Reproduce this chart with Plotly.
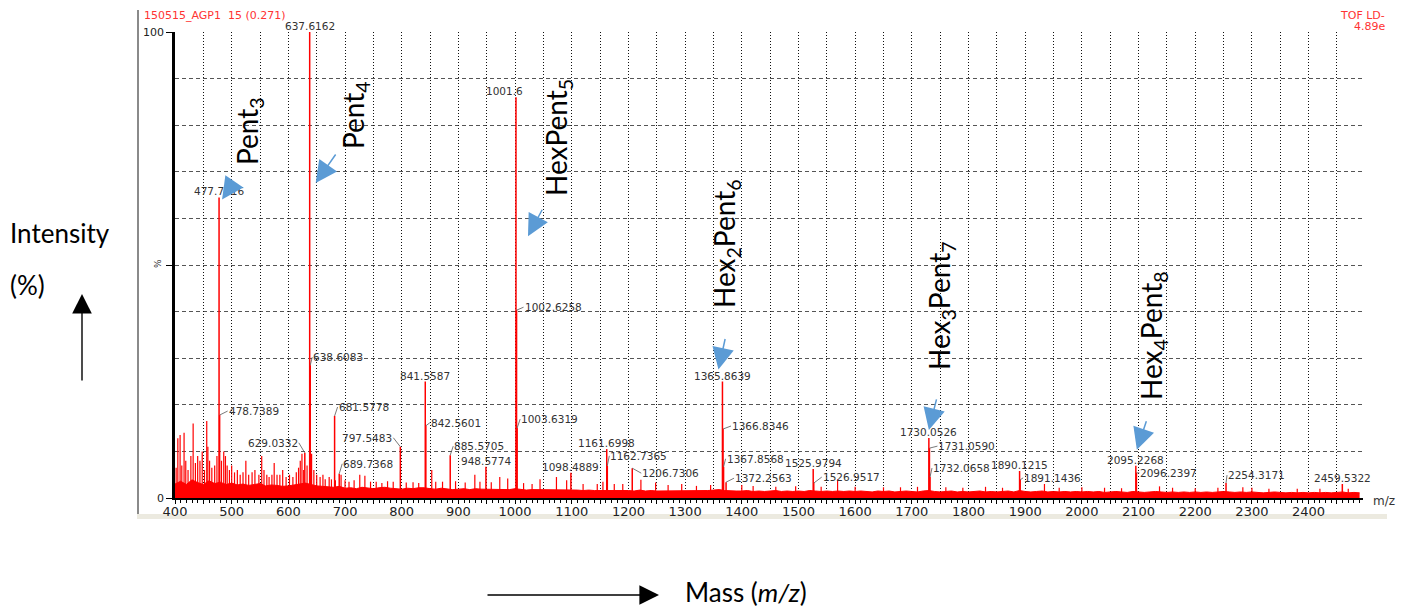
import plotly.graph_objects as go

# ---------------- data ----------------
peak_mz = [477.7416, 478.7389, 629.0332, 637.6162, 638.6083, 681.5778, 689.7368,
           797.5483, 841.5587, 842.5601, 885.5705, 948.5774, 1001.6, 1002.6258,
           1003.6319, 1098.4889, 1161.6998, 1162.7365, 1206.7306, 1365.8639,
           1366.8346, 1367.8568, 1372.2563, 1525.9794, 1526.9517, 1730.0526,
           1731.0590, 1732.0658, 1890.1215, 1891.1436, 2095.2268, 2096.2397,
           2254.3171, 2459.5322]
peak_int = [64.5, 17.8, 9.7, 100.0, 28.5, 17.6, 5.2,
            11.0, 25.0, 15.5, 9.2, 6.7, 86.0, 40.3,
            15.0, 5.4, 10.5, 6.9, 6.4, 25.0,
            14.8, 6.7, 3.4, 6.2, 3.2, 12.9,
            10.7, 4.5, 5.8, 3.9, 6.9, 5.4,
            3.2, 3.0]
peak_labels = ["477.7416", "478.7389", "629.0332", "637.6162", "638.6083", "681.5778", "689.7368",
               "797.5483", "841.5587", "842.5601", "885.5705", "948.5774", "1001.6", "1002.6258",
               "1003.6319", "1098.4889", "1161.6998", "1162.7365", "1206.7306", "1365.8639",
               "1366.8346", "1367.8568", "1372.2563", "1525.9794", "1526.9517", "1730.0526",
               "1731.0590", "1732.0658", "1890.1215", "1891.1436", "2095.2268", "2096.2397",
               "2254.3171", "2459.5322"]

minor_mz = [402, 405, 409, 412, 416, 419, 423, 428, 432, 436, 440, 444, 448, 452, 456, 458,
            461, 465, 470, 474, 482, 486, 489, 492, 496, 500, 505, 510, 515, 520, 525, 530,
            536, 541, 548, 553, 557, 562, 566, 571, 575, 580, 585, 590, 596, 602, 608, 614,
            618, 621, 624, 627, 633, 641, 645, 650, 656, 661, 665, 672, 676, 683, 693, 700,
            707, 716, 726, 735, 745, 755, 765, 775, 785, 808, 820, 830, 853, 860, 872, 895,
            912, 929, 938, 958, 973, 987, 1015, 1030, 1044, 1073, 1091, 1120, 1145, 1155,
            1175, 1190, 1222, 1248, 1270, 1294, 1320, 1345, 1400, 1420, 1460, 1495, 1540,
            1569, 1600, 1650, 1680, 1710, 1760, 1790, 1830, 1860, 1934, 1960, 2000, 2040,
            2070, 2137, 2160, 2200, 2240, 2284, 2300, 2330, 2380, 2420, 2470]
minor_int = [6.5, 12.8, 13.5, 7.0, 14.0, 8.0, 6.0, 9.0, 16.0, 7.5, 9.0, 8.0, 10.0, 6.0, 16.5, 11.0,
             8.0, 6.5, 7.0, 9.0, 8.0, 10.0, 9.0, 7.0, 6.0, 7.0, 5.5, 6.0, 5.0, 5.5, 8.0, 5.0,
             5.5, 6.0, 5.0, 9.0, 6.0, 5.0, 4.5, 5.0, 7.5, 5.0, 5.0, 6.0, 4.5, 5.0, 4.5, 5.5,
             6.5, 8.0, 9.5, 6.0, 7.0, 9.5, 6.0, 5.0, 4.5, 5.0, 4.0, 4.5, 4.0, 3.8, 5.0, 3.8,
             3.5, 3.8, 5.0, 4.8, 3.5, 3.5, 3.2, 3.6, 3.5, 3.3, 3.4, 3.2, 6.0, 3.5, 3.5, 3.6,
             3.3, 5.0, 3.5, 3.4, 4.5, 4.2, 3.2, 3.0, 4.0, 4.5, 3.8, 3.0, 3.0, 3.5,
             3.0, 3.0, 3.9, 3.3, 2.8, 3.0, 2.6, 2.8, 2.8, 2.6, 2.4, 2.5, 2.4,
             4.0, 2.4, 2.3, 2.3, 2.4, 2.3, 2.2, 2.4, 2.2, 3.0, 2.2, 2.3, 2.2,
             2.1, 2.5, 2.2, 2.1, 2.2, 2.3, 2.2, 2.0, 2.0, 2.0, 2.0]

noise_start, noise_step = 400, 10
noise_levels = [
    3.0, 3.6, 2.9, 3.9, 3.3, 2.9, 3.7, 3.1, 3.4, 2.9,
    3.2, 2.8, 3.0, 2.7, 2.9, 3.1, 2.6, 2.8, 2.7, 2.5,
    2.6, 2.8, 3.0, 3.2, 2.9, 2.6, 2.5, 2.4, 2.3, 2.5,
    2.1, 2.2, 2.0, 2.3, 2.1, 2.0, 2.2, 2.3, 2.1, 2.0,
    1.9, 2.1, 2.0, 2.2, 2.2, 2.0, 1.9, 2.1, 2.0, 1.8,
    1.9, 2.0, 1.8, 2.0, 1.9, 1.9, 1.8, 1.9, 1.9, 1.8,
    2.0, 1.8, 1.7, 1.8, 1.8, 1.7, 1.8, 1.8, 1.7, 1.7,
    1.7, 1.7, 1.6, 1.7, 1.6, 1.6, 1.7, 1.6, 1.6, 1.6,
    1.6, 1.5, 1.7, 1.5, 1.6, 1.5, 1.5, 1.6, 1.5, 1.6,
    1.5, 1.5, 1.6, 1.5, 1.6, 1.7, 1.8, 1.6, 1.5, 1.5,
    1.5, 1.6, 1.4, 1.5, 1.4, 1.5, 1.6, 1.4, 1.5, 1.4,
    1.5, 1.4, 1.6, 1.5, 1.4, 1.5, 1.4, 1.5, 1.4, 1.5,
    1.4, 1.5, 1.4, 1.3, 1.5, 1.4, 1.5, 1.3, 1.4, 1.5,
    1.4, 1.3, 1.5, 1.6, 1.4, 1.3, 1.4, 1.5, 1.3, 1.4,
    1.3, 1.4, 1.5, 1.3, 1.4, 1.3, 1.4, 1.5, 1.3, 1.6,
    1.4, 1.3, 1.4, 1.5, 1.3, 1.4, 1.3, 1.4, 1.3, 1.4,
    1.3, 1.4, 1.3, 1.4, 1.2, 1.3, 1.4, 1.3, 1.2, 1.4,
    1.3, 1.2, 1.3, 1.4, 1.3, 1.2, 1.3, 1.2, 1.3, 1.2,
    1.3, 1.2, 1.3, 1.2, 1.3, 1.4, 1.3, 1.2, 1.3, 1.2,
    1.3, 1.2, 1.1, 1.2, 1.3, 1.2, 1.1, 1.2, 1.1, 1.2,
    1.1, 1.2, 1.1, 1.2, 1.1, 1.2, 1.3, 1.1, 1.2, 1.1]

glycan_names = ["Pent<sub>3</sub>", "Pent<sub>4</sub>", "HexPent<sub>5</sub>",
                "Hex<sub>2</sub>Pent<sub>6</sub>", "Hex<sub>3</sub>Pent<sub>7</sub>",
                "Hex<sub>4</sub>Pent<sub>8</sub>"]
glycan_peak = ["477.7416", "637.6162", "1001.6", "1365.8639", "1730.0526", "2095.2268"]

x_tick_values = list(range(400, 2451, 50))
x_range = [400, 2496]
y_range = [0, 100]

# ---------------- layout helpers ----------------
W, H = 1402, 607
L, R, T, B = 175, 1363, 32, 498


def PX(px):
    return (px - L) / (R - L)


def PY(py):
    return (B - py) / (B - T)


RED = "#FF0000"
LABEL_FONT = dict(family="DejaVu Sans", size=10.5, color="#333333")

fig = go.Figure()

# noise floor
noise_x = [noise_start + noise_step * i for i in range(len(noise_levels))]
fig.add_trace(go.Scatter(x=noise_x, y=noise_levels, mode="lines", fill="tozeroy",
                         line=dict(color=RED, width=1), fillcolor=RED, hoverinfo="skip"))


def spikes(mzs, ints):
    xs, ys = [], []
    for m, v in zip(mzs, ints):
        xs += [m, m, None]
        ys += [0, v, None]
    return xs, ys


mx, my = spikes(minor_mz, minor_int)
fig.add_trace(go.Scatter(x=mx, y=my, mode="lines", line=dict(color=RED, width=1.2), hoverinfo="skip"))
px_, py_ = spikes(peak_mz, peak_int)
fig.add_trace(go.Scatter(x=px_, y=py_, mode="lines", line=dict(color=RED, width=1.5), hoverinfo="skip"))

# peak label placement: 't' = centred above, ('r'|'l', dx, dy) = side with leader
placement = {
    "477.7416": "t", "478.7389": ("r", 8, -4), "629.0332": ("l", -6, -10), "637.6162": "t",
    "638.6083": ("r", 2, -8), "681.5778": ("r", 3, -9), "689.7368": ("r", 3, -10),
    "797.5483": ("l", -7, -9), "841.5587": "t", "842.5601": ("r", 4, -3),
    "885.5705": ("r", 3, -9), "948.5774": "t", "1001.6": "t", "1002.6258": ("r", 7, -3),
    "1003.6319": ("r", 3, -9), "1098.4889": "t", "1161.6998": "t", "1162.7365": ("r", 2, -10),
    "1206.7306": ("r", 9, 5), "1365.8639": "t", "1366.8346": ("r", 8, -3),
    "1367.8568": ("r", 2, -8), "1372.2563": ("r", 8, -4), "1525.9794": "t",
    "1526.9517": ("r", 8, -6), "1730.0526": "t", "1731.0590": ("r", 8, -2),
    "1732.0658": ("r", 2, -9), "1890.1215": "t", "1891.1436": ("r", 3, -2),
    "2095.2268": "t", "2096.2397": ("r", 3, 0), "2254.3171": ("r", 1, -8), "2459.5322": "t",
}
xshift_top = {"1001.6": -11}

ann = []
for m, v, lab in zip(peak_mz, peak_int, peak_labels):
    p = placement[lab]
    if p == "t":
        ann.append(dict(x=m, y=v, xref="x", yref="y", text=lab, showarrow=False,
                        xanchor="center", yanchor="middle", yshift=6,
                        xshift=xshift_top.get(lab, 0), font=LABEL_FONT))
    else:
        side, dx, dy = p
        ann.append(dict(x=m, y=v, xref="x", yref="y", text=lab, showarrow=True,
                        arrowhead=0, arrowwidth=0.8, arrowcolor="#555555",
                        ax=dx, ay=dy, axref="pixel", ayref="pixel",
                        xanchor="left" if side == "r" else "right", yanchor="middle",
                        borderpad=0, font=LABEL_FONT))

# glycan labels (rotated), their white text boxes and the blue arrows
glycan_text_pos = [(249, 131), (355, 115), (558, 138), (726, 244), (941, 306), (1153, 336)]
glycan_boxes = [(213, 53, 282, 190), (318, 36, 388, 172), (520, 50, 580, 220),
                (695, 120, 763, 347), (912, 185, 968, 404), (1120, 230, 1193, 433)]
arrow_geom = [(3, -2, 13, -19), (6, -151, 21, -30), (12, -139, 15, -28),
              (-4, 12, 7, -32), (0, 8, 8, -32), (1, 16, 10, -30)]
shapes = []
for name, pk, (tx, ty), box, ag in zip(glycan_names, glycan_peak, glycan_text_pos,
                                       glycan_boxes, arrow_geom):
    x0, y0, x1, y1 = box
    shapes.append(dict(type="rect", xref="paper", yref="paper", x0=PX(x0), x1=PX(x1),
                       y0=PY(y1), y1=PY(y0), fillcolor="white", line=dict(width=0),
                       layer="between"))
    ann.append(dict(x=PX(tx), y=PY(ty), xref="paper", yref="paper", text=name,
                    textangle=-90, showarrow=False, xanchor="center", yanchor="middle",
                    font=dict(family="Lato", size=28, color="black")))
    i = peak_labels.index(pk)
    xs, ys, ax, ay = ag
    ann.append(dict(x=peak_mz[i], y=peak_int[i], xref="x", yref="y", text="",
                    showarrow=True, arrowhead=2, arrowsize=2.9, arrowwidth=1.5,
                    arrowcolor="#5B9BD5", ax=ax, ay=ay, axref="pixel", ayref="pixel",
                    xshift=xs, yshift=ys))

# frame of the instrument screenshot
shapes.append(dict(type="line", xref="paper", yref="paper", x0=PX(138), x1=PX(138),
                   y0=PY(10), y1=PY(516), line=dict(color="#8A8A8A", width=2), layer="below"))
shapes.append(dict(type="rect", xref="paper", yref="paper", x0=PX(137), x1=PX(1387),
                   y0=PY(519), y1=PY(514), fillcolor="#ECEAE0", line=dict(width=0),
                   layer="below"))

# header texts
HDR = dict(family="DejaVu Sans", size=11, color="#FF3333")
ann.append(dict(x=PX(142), y=PY(16), xref="paper", yref="paper", text="150515_AGP1  15 (0.271)",
                showarrow=False, xanchor="left", yanchor="middle", font=HDR))
ann.append(dict(x=PX(1387), y=PY(15), xref="paper", yref="paper", text="TOF LD-",
                showarrow=False, xanchor="right", yanchor="middle", font=HDR))
ann.append(dict(x=PX(1387), y=PY(26.5), xref="paper", yref="paper", text="4.89e",
                showarrow=False, xanchor="right", yanchor="middle", font=HDR))
ann.append(dict(x=PX(158), y=PY(264), xref="paper", yref="paper", text="%", textangle=-90,
                showarrow=False, xanchor="center", yanchor="middle",
                font=dict(family="DejaVu Sans", size=9, color="#333333")))
ann.append(dict(x=PX(1371), y=PY(501), xref="paper", yref="paper", text="m/z",
                showarrow=False, xanchor="left", yanchor="middle",
                font=dict(family="DejaVu Sans", size=12, color="#333333")))

# outer axis titles with arrows
BIG = dict(family="Lato", size=26, color="black")
ann.append(dict(x=PX(8), y=PY(233), xref="paper", yref="paper", text="Intensity",
                showarrow=False, xanchor="left", yanchor="middle", font=BIG))
ann.append(dict(x=PX(8), y=PY(285), xref="paper", yref="paper", text="(%)",
                showarrow=False, xanchor="left", yanchor="middle", font=BIG))
ann.append(dict(x=PX(82), y=PY(294), xref="paper", yref="paper", text="", showarrow=True,
                arrowhead=2, arrowsize=2.8, arrowwidth=1.4, arrowcolor="black",
                ax=0, ay=88, axref="pixel", ayref="pixel"))
ann.append(dict(x=PX(683), y=PY(592), xref="paper", yref="paper", text="Mass (<i>m/z</i>)",
                showarrow=False, xanchor="left", yanchor="middle", font=BIG))
ann.append(dict(x=PX(659), y=PY(595), xref="paper", yref="paper", text="", showarrow=True,
                arrowhead=2, arrowsize=2.8, arrowwidth=1.4, arrowcolor="black",
                ax=-173, ay=0, axref="pixel", ayref="pixel"))

fig.update_layout(
    width=W, height=H,
    margin=dict(l=L, r=W - R, t=T, b=H - B, pad=0, autoexpand=False),
    paper_bgcolor="white", plot_bgcolor="white",
    showlegend=False,
    shapes=shapes, annotations=ann,
    xaxis=dict(range=x_range, tickmode="array", tickvals=x_tick_values,
               ticktext=[str(v) if v % 100 == 0 else "" for v in x_tick_values],
               showgrid=True, gridcolor="#111111", gridwidth=1, griddash="1px,2px",
               zeroline=False, showline=True, linecolor="black", linewidth=1.5,
               ticks="outside", ticklen=4, tickcolor="black", ticklabelstandoff=-3,
               tickfont=dict(family="DejaVu Sans", size=13, color="#222222"),
               minor=dict(tickmode="linear", tick0=400, dtick=10, ticks="outside",
                          ticklen=3, tickcolor="black", showgrid=False),
               fixedrange=True),
    yaxis=dict(range=y_range, tickmode="array", tickvals=[0, 50, 100], ticktext=["0", "", "100"],
               showgrid=True, gridcolor="#555555", gridwidth=1, griddash="4px,3px",
               zeroline=False, showline=True, linecolor="black", linewidth=2.5,
               ticks="outside", ticklen=6, tickcolor="black",
               tickfont=dict(family="DejaVu Sans", size=11, color="#222222"),
               minor=dict(tickmode="array", tickvals=[10, 20, 30, 40, 60, 70, 80, 90],
                          showgrid=True, gridcolor="#555555", gridwidth=1, griddash="4px,3px",
                          ticks=""),
               fixedrange=True),
)

fig.write_html("out.html", config={"displayModeBar": False},
               post_script="document.body.style.margin='0px';")
